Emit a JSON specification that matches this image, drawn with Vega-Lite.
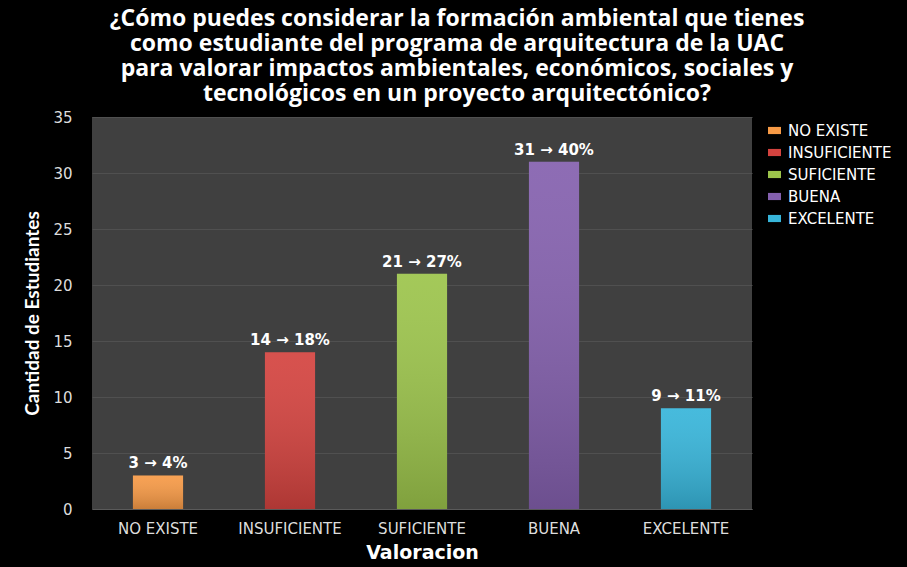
{
  "$schema": "https://vega.github.io/schema/vega-lite/v6.json",
  "autosize": "none",
  "width": 660,
  "height": 392,
  "padding": {"left": 92, "top": 117, "right": 155, "bottom": 58},
  "background": "#000000",
  "title": {
    "text": ["¿Cómo puedes considerar la formación ambiental que tienes", "como estudiante del programa de arquitectura de  la UAC", "para valorar impactos ambientales, económicos, sociales y", "tecnológicos en un proyecto arquitectónico?"],
    "font": "Open Sans",
    "fontSize": 23,
    "fontWeight": "bold",
    "color": "#ffffff",
    "lineHeight": 25,
    "anchor": "middle",
    "dx": 35,
    "offset": 4
  },
  "config": {
    "view": {"fill": "#404040", "stroke": null},
    "axis": {"labelColor": "#dddddd", "titleColor": "#ffffff"}
  },
  "data": {
    "values": [
      {"valoracion": "NO EXISTE", "cantidad": 3, "etiqueta": "3 → 4%"},
      {"valoracion": "INSUFICIENTE", "cantidad": 14, "etiqueta": "14 → 18%"},
      {"valoracion": "SUFICIENTE", "cantidad": 21, "etiqueta": "21 → 27%"},
      {"valoracion": "BUENA", "cantidad": 31, "etiqueta": "31 → 40%"},
      {"valoracion": "EXCELENTE", "cantidad": 9, "etiqueta": "9 → 11%"}
    ]
  },
  "encoding": {
    "x": {
      "field": "valoracion",
      "type": "nominal",
      "sort": null,
      "scale": {"paddingInner": 0.62, "paddingOuter": 0.31},
      "axis": {
        "title": "Valoracion",
        "titleFont": "DejaVu Sans",
        "titleFontSize": 19,
        "titleFontWeight": "bold",
        "titlePadding": 7,
        "labelAngle": 0,
        "labelFont": "DejaVu Sans",
        "labelFontSize": 15,
        "labelPadding": 12,
        "ticks": false,
        "domainColor": "#5a5a5a",
        "grid": false
      }
    },
    "y": {
      "field": "cantidad",
      "type": "quantitative",
      "scale": {"domain": [0, 35]},
      "axis": {
        "title": "Cantidad de Estudiantes",
        "titleFont": "Lato",
        "titleFontSize": 19,
        "titleFontWeight": "bold",
        "titlePadding": 10,
        "values": [0, 5, 10, 15, 20, 25, 30, 35],
        "labelFont": "DejaVu Sans",
        "labelFontSize": 15,
        "labelPadding": 20,
        "ticks": false,
        "domain": false,
        "gridColor": "#505050",
        "gridWidth": 1
      }
    }
  },
  "layer": [
    {
      "mark": {"type": "bar"},
      "encoding": {
        "color": {
          "field": "valoracion",
          "type": "nominal",
          "sort": null,
          "scale": {
            "domain": ["NO EXISTE", "INSUFICIENTE", "SUFICIENTE", "BUENA", "EXCELENTE"],
            "range": ["#F79A46", "#D4433F", "#9CC44B", "#8460AE", "#37B5DA"]
          },
          "legend": {
            "title": null,
            "orient": "right",
            "offset": 9,
            "padding": 6,
            "symbolType": "M-1,-0.55H1V0.55H-1Z",
            "symbolSize": 169,
            "symbolStrokeWidth": 0,
            "labelFont": "DejaVu Sans",
            "labelFontSize": 15,
            "labelColor": "#ffffff",
            "labelOffset": 6,
            "rowPadding": 6
          }
        }
      }
    },
    {
      "mark": {
        "type": "bar",
        "color": {
          "gradient": "linear",
          "x1": 0, "y1": 0, "x2": 0, "y2": 1,
          "stops": [
            {"offset": 0, "color": "rgba(255,255,255,0.08)"},
            {"offset": 1, "color": "rgba(0,0,0,0.18)"}
          ]
        }
      }
    },
    {
      "mark": {"type": "text", "baseline": "bottom", "dy": -4, "font": "DejaVu Sans", "fontSize": 15, "fontWeight": "bold", "color": "#ffffff"},
      "encoding": {"text": {"field": "etiqueta"}}
    }
  ]
}
